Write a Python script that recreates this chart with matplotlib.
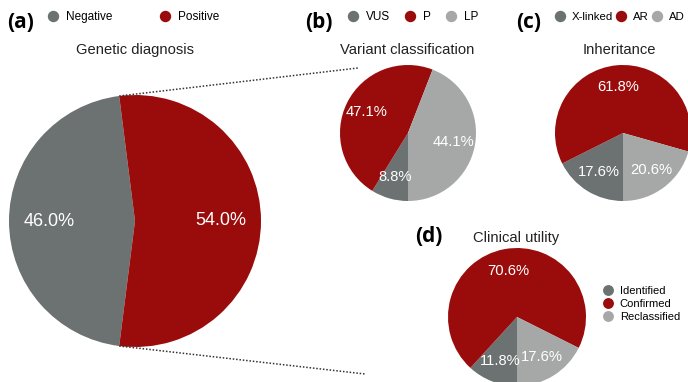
import matplotlib
matplotlib.use('Agg')
import matplotlib.pyplot as plt
import numpy as np
from matplotlib.lines import Line2D

W, H = 688, 382
plt.rcParams['font.family'] = ['Liberation Sans', 'DejaVu Sans']

RED = '#9a0b0b'
DARK = '#6c7271'
LIGHT = '#a6a8a8'

# data
diag_labels = ['Negative', 'Positive']
diag_values = [46.0, 54.0]
variant_labels = ['VUS', 'P', 'LP']
variant_values = [8.8, 47.1, 44.1]
inherit_labels = ['X-linked', 'AR', 'AD']
inherit_values = [17.6, 61.8, 20.6]
utility_labels = ['Identified', 'Confirmed', 'Reclassified']
utility_values = [11.8, 70.6, 17.6]

fig = plt.figure(figsize=(W / 100, H / 100), dpi=100)


def fx(px):
    return px / W


def fy(py):
    return 1 - py / H


def pie_axes(cx, cy, r):
    pad = 1.02
    return fig.add_axes([fx(cx - r * pad), fy(cy + r * pad), 2 * r * pad / W, 2 * r * pad / H])


def draw_pie(ax, values, colors, start, ccw, fs):
    wedges, texts, autotexts = ax.pie(values, colors=colors, startangle=start, counterclock=ccw,
                                      autopct='%.1f%%', pctdistance=0.68,
                                      wedgeprops=dict(linewidth=0),
                                      textprops=dict(color='white', fontsize=fs))
    ax.set_xlim(-1.02, 1.02)
    ax.set_ylim(-1.02, 1.02)
    return wedges


def add_legend(labels, colors, x, y, ncol, colsp, fs, ms, spacing=0.5):
    handles = [Line2D([], [], ls='', marker='o', ms=ms, color=c) for c in colors]
    fig.legend(handles, labels, loc='center left', bbox_to_anchor=(fx(x), fy(y)),
               ncol=ncol, frameon=False, fontsize=fs, handlelength=1.0, handletextpad=0.6,
               columnspacing=colsp, borderpad=0, borderaxespad=0, labelspacing=spacing)


def panel(label, x, y):
    fig.text(fx(x), fy(y), label, fontsize=15, fontweight='bold', family='Open Sans',
             ha='center', va='center')


def title(txt, x, y):
    fig.text(fx(x), fy(y), txt, fontsize=10.6, color='#222222', ha='center', va='center')


# (a) genetic diagnosis - positive slice centred on the right
ax_a = pie_axes(135, 221, 126)
wa = draw_pie(ax_a, diag_values, [DARK, RED], 180 * diag_values[1] / sum(diag_values), True, 13)

# (b) variant classification
ax_b = pie_axes(408, 133, 68)
draw_pie(ax_b, variant_values, [DARK, RED, LIGHT], 270, False, 10.6)

# (c) inheritance
ax_c = pie_axes(623, 133, 68)
draw_pie(ax_c, inherit_values, [DARK, RED, LIGHT], 270, False, 10.6)

# (d) clinical utility
ax_d = pie_axes(517, 317, 69)
draw_pie(ax_d, utility_values, [DARK, RED, LIGHT], 270, False, 10.6)

# dotted connectors from the positive wedge of (a) towards (b)
inv = fig.transFigure.inverted()
for ang, end in [(wa[1].theta2, (358, 68)), (wa[1].theta1, (365, 374))]:
    p = ax_a.transData.transform((np.cos(np.radians(ang)), np.sin(np.radians(ang))))
    p = inv.transform(p)
    fig.add_artist(Line2D([p[0], fx(end[0])], [p[1], fy(end[1])], transform=fig.transFigure,
                          color='#333333', lw=1.1, ls=(0, (1, 1.2))))

panel('(a)', 21, 22)
panel('(b)', 319, 22)
panel('(c)', 529, 22)
panel('(d)', 429, 237)

title('Genetic diagnosis', 135, 50)
title('Variant classification', 407, 50)
title('Inheritance', 619, 50)
title('Clinical utility', 516, 238)

add_legend(diag_labels, [DARK, RED], 47, 17, 2, 4.0, 8.5, 7.2)
add_legend(variant_labels, [DARK, RED, LIGHT], 347, 17, 3, 1.2, 8.5, 7.2)
add_legend(inherit_labels, [DARK, RED, LIGHT], 554, 17, 3, 0.15, 8.2, 7.2)
add_legend(utility_labels, [DARK, RED, LIGHT], 602, 304, 1, 0.5, 8, 6.8, spacing=0.3)

fig.savefig('out.png', dpi=100)
